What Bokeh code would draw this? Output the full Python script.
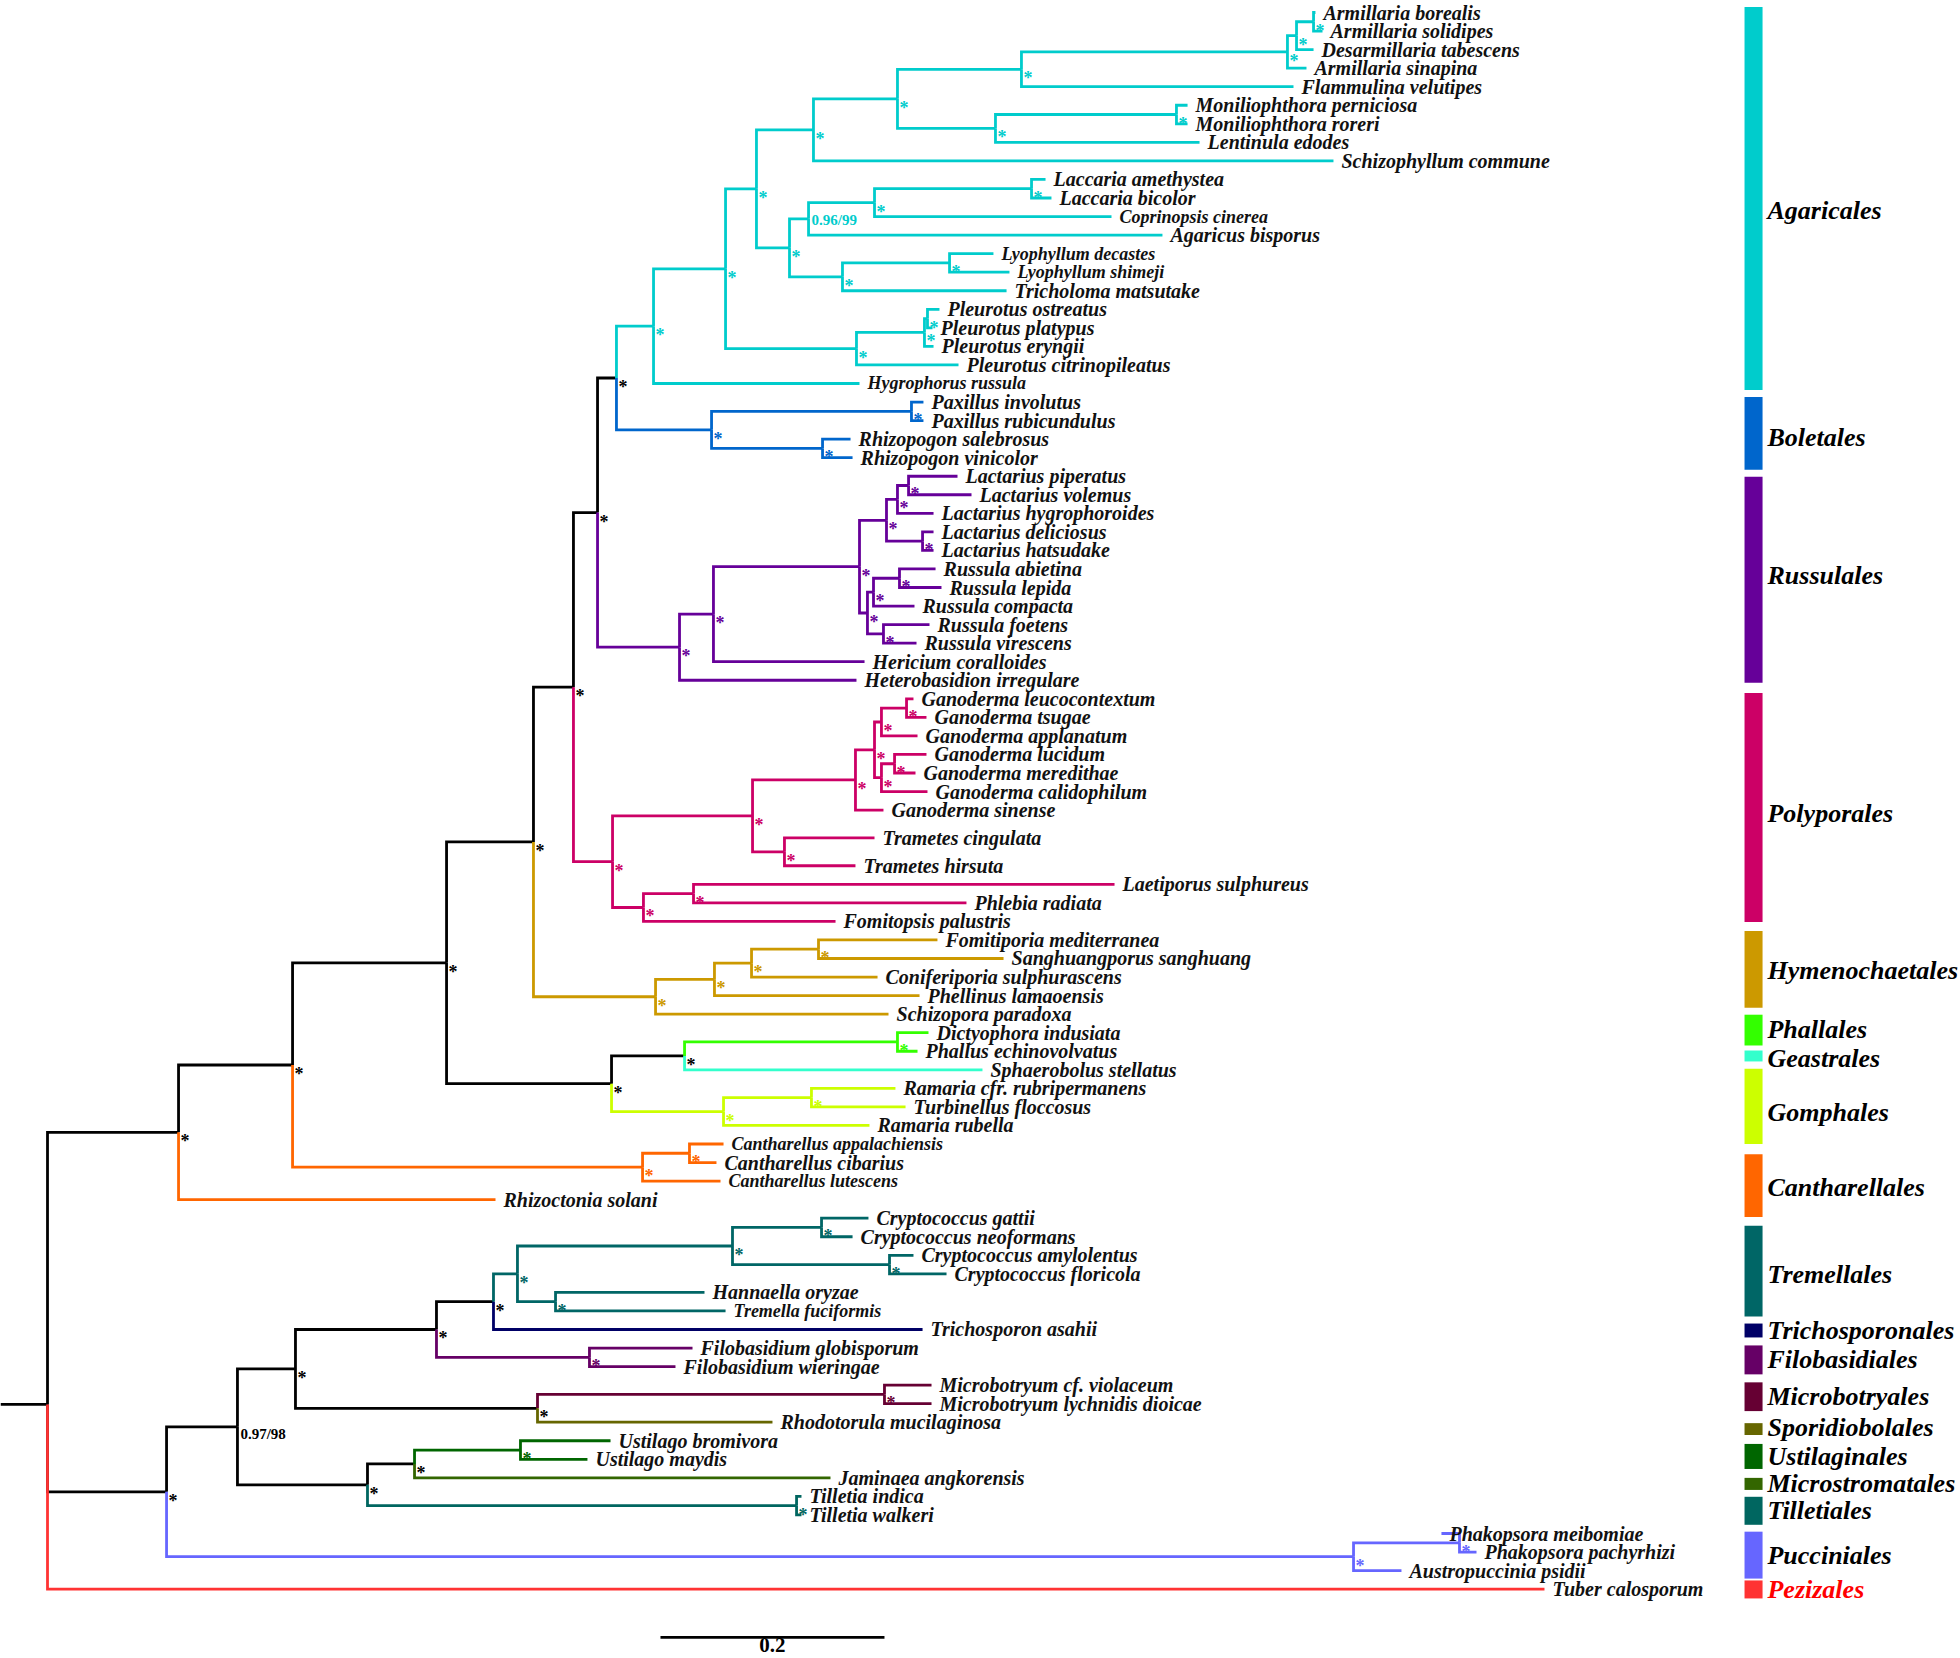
from bokeh.plotting import figure
from bokeh.models import ColumnDataSource, Range1d
from bokeh.core.properties import value
from bokeh.embed import file_html
from bokeh.resources import INLINE

# ---------------- data ----------------
LEAF_NAMES = [
    "Armillaria borealis", "Armillaria solidipes", "Desarmillaria tabescens", "Armillaria sinapina",
    "Flammulina velutipes", "Moniliophthora perniciosa", "Moniliophthora roreri", "Lentinula edodes",
    "Schizophyllum commune", "Laccaria amethystea", "Laccaria bicolor", "Coprinopsis cinerea",
    "Agaricus bisporus", "Lyophyllum decastes", "Lyophyllum shimeji", "Tricholoma matsutake",
    "Pleurotus ostreatus", "Pleurotus platypus", "Pleurotus eryngii", "Pleurotus citrinopileatus",
    "Hygrophorus russula", "Paxillus involutus", "Paxillus rubicundulus", "Rhizopogon salebrosus",
    "Rhizopogon vinicolor", "Lactarius piperatus", "Lactarius volemus", "Lactarius hygrophoroides",
    "Lactarius deliciosus", "Lactarius hatsudake", "Russula abietina", "Russula lepida",
    "Russula compacta", "Russula foetens", "Russula virescens", "Hericium coralloides",
    "Heterobasidion irregulare", "Ganoderma leucocontextum", "Ganoderma tsugae", "Ganoderma applanatum",
    "Ganoderma lucidum", "Ganoderma meredithae", "Ganoderma calidophilum", "Ganoderma sinense",
    "Trametes cingulata", "Trametes hirsuta", "Laetiporus sulphureus", "Phlebia radiata",
    "Fomitopsis palustris", "Fomitiporia mediterranea", "Sanghuangporus sanghuang",
    "Coniferiporia sulphurascens", "Phellinus lamaoensis", "Schizopora paradoxa",
    "Dictyophora indusiata", "Phallus echinovolvatus", "Sphaerobolus stellatus",
    "Ramaria cfr. rubripermanens", "Turbinellus floccosus", "Ramaria rubella",
    "Cantharellus appalachiensis", "Cantharellus cibarius", "Cantharellus lutescens",
    "Rhizoctonia solani", "Cryptococcus gattii", "Cryptococcus neoformans",
    "Cryptococcus amylolentus", "Cryptococcus floricola", "Hannaella oryzae", "Tremella fuciformis",
    "Trichosporon asahii", "Filobasidium globisporum", "Filobasidium wieringae",
    "Microbotryum cf. violaceum", "Microbotryum lychnidis dioicae", "Rhodotorula mucilaginosa",
    "Ustilago bromivora", "Ustilago maydis", "Jaminaea angkorensis", "Tilletia indica",
    "Tilletia walkeri", "Phakopsora meibomiae", "Phakopsora pachyrhizi", "Austropuccinia psidii",
    "Tuber calosporum",
]
LEAF_PARENTS = [
    "AG10", "AG10", "AG9", "AG8", "AG6", "MON", "MON", "AG7", "AG3", "LAC", "LAC", "AG12",
    "AG11", "LYO", "LYO", "AG14", "PL2", "PL2", "PL1", "PL0", "AG0", "PAX", "PAX", "RHI",
    "RHI", "LA2", "LA2", "LA1", "LAD", "LAD", "RSA", "RSA", "RS1", "RSF", "RSF", "RU1",
    "RU0", "GAL", "GAL", "GA2", "GAM", "GAM", "GA3", "GA0", "TRA", "TRA", "LAE", "LAE",
    "PO5", "FOM", "FOM", "HY2", "HY1", "HY0", "PHA", "PHA", "PG", "GO1", "GO1", "GO0",
    "CA1", "CA1", "CA0", "NR", "CRG", "CRG", "CRA", "CRA", "TR4", "TR4", "NTT", "FIL",
    "FIL", "MIC", "MIC", "NM", "UST", "UST", "NV", "TIL", "TIL", "PHK", "PHK", "PU0",
    "root",
]
LEAF_DEPTHS = [
    1.1321, 1.1384, 1.1304, 1.1241, 1.1125, 1.0179, 1.0179, 1.0286, 1.1482, 0.8911, 0.8964, 0.9500,
    0.9955, 0.8446, 0.8589, 0.8563, 0.7964, 0.7902, 0.7911, 0.8134, 0.7250, 0.7821, 0.7821, 0.7170,
    0.7188, 0.8125, 0.8250, 0.7911, 0.7911, 0.7911, 0.7929, 0.7982, 0.7741, 0.7875, 0.7759, 0.7295,
    0.7223, 0.7732, 0.7848, 0.7768, 0.7848, 0.7750, 0.7857, 0.7464, 0.7384, 0.7214, 0.9527, 0.8205,
    0.7036, 0.7946, 0.8536, 0.7411, 0.7786, 0.7509, 0.7866, 0.7768, 0.8348, 0.7571, 0.7661, 0.7339,
    0.6036, 0.5973, 0.6009, 0.4000, 0.7330, 0.7188, 0.7732, 0.8027, 0.5866, 0.6054, 0.7813, 0.5759,
    0.5607, 0.7893, 0.7893, 0.6473, 0.5027, 0.4821, 0.6991, 0.6732, 0.6732, 1.2446, 1.2759, 1.2089,
    1.3366,
]
# labels that are set in a narrower face in the picture
CONDENSED_LABELS = [
    "Coprinopsis cinerea", "Lyophyllum decastes", "Lyophyllum shimeji", "Hygrophorus russula",
    "Cantharellus appalachiensis", "Cantharellus lutescens", "Tremella fuciformis",
]

NODE_IDS = [
    "root", "NR", "NC", "NAGM", "NBIG", "NABRP", "NABR", "AB", "AG0", "AG1", "AG2", "AG3", "AG5",
    "AG6", "AG8", "AG9", "AG10", "AG7", "MON", "AG4", "AG11", "AG12", "LAC", "AG14", "LYO", "PL0",
    "PL1", "PL2", "BO", "PAX", "RHI", "RU0", "RU1", "RU2", "LA0", "LA1", "LA2", "LAD", "RS0",
    "RS1", "RSA", "RSF", "PO0", "PO1", "GA0", "GA1", "GA2", "GAL", "GA3", "GAM", "TRA", "PO5",
    "LAE", "HY0", "HY1", "HY2", "FOM", "PGG", "PG", "PHA", "GO0", "GO1", "CA0", "CA1", "NO",
    "NP", "NQ", "NT", "NTT", "TR0", "TR1", "CRG", "CRA", "TR4", "FIL", "NM", "MIC", "NU", "NV",
    "UST", "TIL", "PU0", "PHK",
]
NODE_PARENTS = [
    None, "root", "NR", "NC", "NAGM", "NBIG", "NABRP", "NABR", "AB", "AG0", "AG1", "AG2", "AG3",
    "AG5", "AG6", "AG8", "AG9", "AG5", "AG7", "AG2", "AG4", "AG11", "AG12", "AG4", "AG14", "AG1",
    "PL0", "PL1", "AB", "BO", "BO", "NABR", "RU0", "RU1", "RU2", "LA0", "LA1", "LA0", "RU2",
    "RS0", "RS1", "RS0", "NABRP", "PO0", "PO1", "GA0", "GA1", "GA2", "GA1", "GA3", "PO1", "PO0",
    "PO5", "NBIG", "HY0", "HY1", "HY2", "NAGM", "PGG", "PG", "PGG", "GO0", "NC", "CA0", "root",
    "NO", "NP", "NQ", "NT", "NTT", "TR0", "TR1", "TR1", "TR0", "NT", "NQ", "NM", "NP", "NU",
    "NV", "NU", "NO", "PU0",
]
NODE_DEPTHS = [
    0.0, 0.1170, 0.2188, 0.3563, 0.4339, 0.4696, 0.4911, 0.5080, 0.5411, 0.6054, 0.6330, 0.6839,
    0.7589, 0.8696, 1.1071, 1.1152, 1.1304, 0.8464, 1.0080, 0.6625, 0.6795, 0.7384, 0.8786, 0.7098,
    0.8054, 0.7223, 0.7830, 0.7857, 0.5929, 0.7714, 0.6920, 0.5643, 0.5946, 0.7250, 0.7491, 0.7589,
    0.7688, 0.7813, 0.7321, 0.7375, 0.7607, 0.7464, 0.5045, 0.6295, 0.7214, 0.7384, 0.7446, 0.7670,
    0.7446, 0.7563, 0.6580, 0.5321, 0.5768, 0.5429, 0.5955, 0.6286, 0.6884, 0.5036, 0.5688, 0.7589,
    0.6036, 0.6821, 0.5313, 0.5732, 0.1063, 0.1696, 0.2214, 0.3473, 0.3982, 0.4196, 0.6116, 0.6911,
    0.7518, 0.4536, 0.4839, 0.4375, 0.7473, 0.2857, 0.3277, 0.4223, 0.6688, 1.1661, 1.2607,
]
NODE_SUPPORT = ["*"] * len(NODE_IDS)
NODE_SUPPORT[NODE_IDS.index("root")] = ""
NODE_SUPPORT[NODE_IDS.index("AG11")] = "0.96/99"
NODE_SUPPORT[NODE_IDS.index("NP")] = "0.97/98"

CLADE_NAMES = [
    "Agaricales", "Boletales", "Russulales", "Polyporales", "Hymenochaetales", "Phallales",
    "Geastrales", "Gomphales", "Cantharellales", "Tremellales", "Trichosporonales",
    "Filobasidiales", "Microbotryales", "Sporidiobolales", "Ustilaginales", "Microstromatales",
    "Tilletiales", "Pucciniales", "Pezizales",
]
CLADE_SIZES = [21, 4, 12, 12, 5, 2, 1, 3, 4, 6, 1, 2, 2, 1, 2, 1, 2, 3, 1]
CLADE_COLORS = [
    "#00CCCC", "#0066CC", "#660099", "#CC0066", "#CC9900", "#33FF00", "#33FFCC", "#CCFF00",
    "#FF6600", "#006666", "#000066", "#660066", "#660033", "#666600", "#006600", "#336600",
    "#006660", "#6666FF", "#FF3333",
]
CLADE_BAR_TOP = [-0.3, 20.73, 25.03, 36.68, 49.52, 54.03, 55.96, 56.95, 61.55, 65.41, 70.68,
                 71.86, 73.85, 76.05, 77.17, 79.0, 80.02, 81.9, 84.53]
CLADE_BAR_BOTTOM = [20.35, 24.65, 36.14, 49.03, 53.65, 55.69, 56.55, 61.0, 64.93, 70.3, 71.43,
                    73.42, 75.4, 76.69, 78.52, 79.65, 81.53, 84.43, 85.5]
CLADE_LABEL_ROW = [10.69, 22.93, 30.34, 43.18, 51.66, 54.83, 56.39, 59.29, 63.32, 68.05, 71.05,
                   72.61, 74.6, 76.3, 77.87, 79.32, 80.77, 83.19, 85.02]

EXTRA_ROW_GAP = {"Trametes cingulata": 0.5, "Trametes hirsuta": 0.5}
SCALE_LENGTH = 0.2
SCALE_LABEL = "0.2"

# ---------------- layout constants ----------------
W, H = 1960, 1658
PX_PER_UNIT = 1120.0
ROOT_PX = 47.0
ROW_PX = 18.549
ROW0_PX = 12.0
BAR_LEFT, BAR_RIGHT, CLADE_TEXT_X = 1.5152, 1.5313, 1.5357
SCALE_X0, SCALE_ROW, SCALE_TEXT_ROW = 0.5473, 87.6, 88.0
FONT = value("Liberation Serif")

# ---------------- build tree geometry ----------------
leaf_clade = []
for name, size in zip(CLADE_NAMES, CLADE_SIZES):
    leaf_clade += [name] * size
clade_color = dict(zip(CLADE_NAMES, CLADE_COLORS))

rows, shift = [], 0.0
for i, n in enumerate(LEAF_NAMES):
    shift += EXTRA_ROW_GAP.get(n, 0.0)
    rows.append(i + shift)

xpos, ypos, clades, parent = {}, {}, {}, {}
children = {n: [] for n in NODE_IDS}
for n, pr, d in zip(NODE_IDS, NODE_PARENTS, NODE_DEPTHS):
    xpos[n] = d
    parent[n] = pr
    if pr is not None:
        children[pr].append(n)
for n, pr, d, r, c in zip(LEAF_NAMES, LEAF_PARENTS, LEAF_DEPTHS, rows, leaf_clade):
    xpos[n] = d
    ypos[n] = r
    clades[n] = {c}
    parent[n] = pr
    children[pr].append(n)


def resolve(n):
    if n in ypos:
        return ypos[n], clades[n]
    ys, cs = [], set()
    for ch in children[n]:
        y, c = resolve(ch)
        ys.append(y)
        cs |= c
    ypos[n] = sum(ys) / len(ys)
    clades[n] = cs
    return ypos[n], cs


resolve("root")


def color_of(n):
    cs = clades[n]
    return clade_color[next(iter(cs))] if len(cs) == 1 else "#000000"


order = [n for n in NODE_IDS if parent[n] is not None] + LEAF_NAMES
xs, ys, cols = [], [], []
for n in order:
    pr = parent[n]
    xs.append([xpos[pr], xpos[pr], xpos[n]])
    ys.append([ypos[pr], ypos[n], ypos[n]])
    cols.append(color_of(n))
# root stub
xs.insert(0, [-ROOT_PX / PX_PER_UNIT, 0.0])
ys.insert(0, [ypos["root"], ypos["root"]])
cols.insert(0, "#000000")

p = figure(
    width=W, height=H,
    x_range=Range1d(-ROOT_PX / PX_PER_UNIT, (W - ROOT_PX) / PX_PER_UNIT),
    y_range=Range1d((H - ROW0_PX) / ROW_PX, -ROW0_PX / ROW_PX),
    output_backend="svg", toolbar_location=None,
    x_axis_location=None, y_axis_location=None, min_border=0,
)
p.grid.visible = False
p.outline_line_color = None
p.background_fill_color = "white"

p.multi_line(xs="xs", ys="ys", line_color="c", line_width=2.8, line_join="miter",
             source=ColumnDataSource(dict(xs=xs, ys=ys, c=cols)))

# leaf labels
sizes = ["18px" if n in CONDENSED_LABELS else "20px" for n in LEAF_NAMES]
p.text(x="x", y="y", text="t",
       source=ColumnDataSource(dict(x=LEAF_DEPTHS, y=rows, t=LEAF_NAMES, fs=sizes)),
       x_offset=8, text_baseline="middle", text_align="left", text_font=FONT,
       text_font_style="bold italic", text_font_size="fs", text_color="#111111")

# support stars and values
sx, sy, sc = [], [], []
lx, ly, lt, lc, lo = [], [], [], [], []
for n, s in zip(NODE_IDS, NODE_SUPPORT):
    if s == "*":
        sx.append(xpos[n]); sy.append(ypos[n]); sc.append(color_of(n))
    elif s:
        lx.append(xpos[n]); ly.append(ypos[n]); lt.append(s); lc.append(color_of(n))
        lo.append(1 if color_of(n) != "#000000" else 7)
p.text(x="x", y="y", text=value("*"), source=ColumnDataSource(dict(x=sx, y=sy, c=sc)),
       x_offset=2, y_offset=9, text_baseline="alphabetic", text_color="c", text_font=FONT,
       text_font_style="bold", text_font_size="18px")
p.text(x="x", y="y", text="t", source=ColumnDataSource(dict(x=lx, y=ly, t=lt, c=lc, o=lo)),
       x_offset=3, y_offset="o", text_baseline="middle", text_color="c", text_font=FONT,
       text_font_style="bold", text_font_size="15px")

# clade bars and labels
p.quad(left=BAR_LEFT, right=BAR_RIGHT, top=CLADE_BAR_TOP, bottom=CLADE_BAR_BOTTOM,
       fill_color=CLADE_COLORS, line_color=None)
label_colors = ["#FF0000" if n == "Pezizales" else "#000000" for n in CLADE_NAMES]
p.text(x=CLADE_TEXT_X, y="y", text="t",
       source=ColumnDataSource(dict(y=CLADE_LABEL_ROW, t=CLADE_NAMES, c=label_colors)),
       text_baseline="middle", text_align="left", text_font=FONT, text_color="c",
       text_font_style="bold italic", text_font_size="26px")

# scale bar
p.line([SCALE_X0, SCALE_X0 + SCALE_LENGTH], [SCALE_ROW, SCALE_ROW], line_color="black", line_width=2.8)
p.text(x=[SCALE_X0 + SCALE_LENGTH / 2], y=[SCALE_TEXT_ROW], text=[SCALE_LABEL],
       text_baseline="middle", text_align="center", text_font=FONT, text_font_style="bold",
       text_font_size="21px", text_color="black")

open("out.html", "w").write(file_html(p, INLINE))
